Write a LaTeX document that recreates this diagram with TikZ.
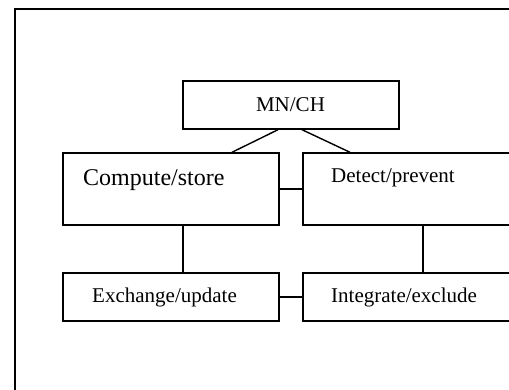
\documentclass[tikz,border=0pt]{standalone}
\usepackage{fontspec}
\setmainfont{Liberation Serif}
\usetikzlibrary{calc}
\begin{document}
\begin{tikzpicture}[x=1pt,y=1pt,
  boxnode/.style={draw=black,line width=1.4pt,rectangle,minimum width=216pt,inner sep=0pt,fill=white},
  conn/.style={draw=black,line width=1.4pt},
  txt/.style={anchor=base west,inner sep=0pt,font=\fontsize{21}{25}\selectfont},
  bigtxt/.style={anchor=base west,inner sep=0pt,font=\fontsize{24}{28}\selectfont}]
\useasboundingbox (0,0) rectangle (509,390);
\clip (0,0) rectangle (509,390);
\draw[line width=2pt] (15,-10) |- (520,381);
% boxes
\node[boxnode,minimum height=48pt] (mn) at (291,285) {};
\node[boxnode,minimum height=72pt] (cs) at (171,201) {};
\node[boxnode,minimum height=72pt] (dp) at (411,201) {};
\node[boxnode,minimum height=48pt] (eu) at (171,93) {};
\node[boxnode,minimum height=48pt] (ie) at (411,93) {};
% texts
\node[txt,anchor=base] (tmn) at (290.5,278) {MN/CH};
\node[bigtxt] (tcs) at (83,204) {Compute/store};
\node[txt] (tdp) at (331,207) {Detect/prevent};
\node[txt] (teu) at (92,87) {Exchange/update};
\node[txt] (tie) at (331,87) {Integrate/exclude};
% connectors
\draw[conn] ($(mn.south)+(-13,0)$) -- ($(cs.north)+(61,0)$);
\draw[conn] ($(mn.south)+(11,0)$) -- ($(dp.north)+(-61,0)$);
\draw[conn] (cs.east) -- (dp.west);
\draw[conn] ($(cs.south)+(12,0)$) -- ($(eu.north)+(12,0)$);
\draw[conn] ($(dp.south)+(12,0)$) -- ($(ie.north)+(12,0)$);
\draw[conn] (eu.east) -- (ie.west);
\end{tikzpicture}
\end{document}
